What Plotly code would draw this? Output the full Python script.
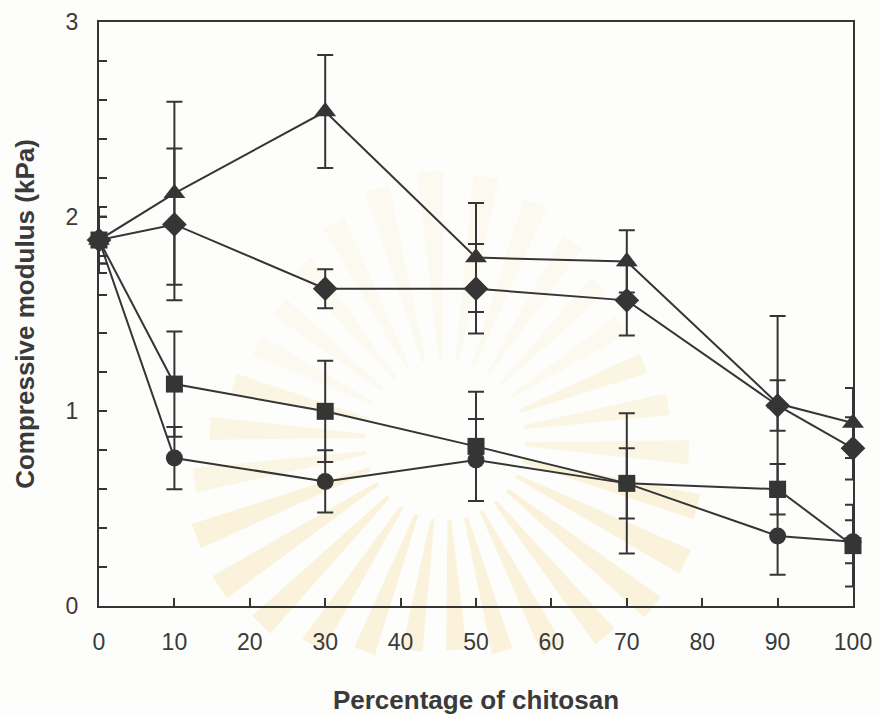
import math
import plotly.graph_objects as go

# Chitosan content (%) on the x axis
chitosan_pct = [0, 10, 30, 50, 70, 90, 100]

# Compressive modulus (kPa) and standard deviations for each formulation
triangle_vals = [1.88, 2.12, 2.54, 1.79, 1.77, 1.04, 0.94]
triangle_err = [0.17, 0.47, 0.29, 0.28, 0.16, 0.45, 0.18]

diamond_vals = [1.88, 1.96, 1.63, 1.63, 1.57, 1.03, 0.81]
diamond_err = [0.12, 0.39, 0.10, 0.23, 0.18, 0.13, 0.16]

square_vals = [1.88, 1.14, 1.00, 0.82, 0.63, 0.60, 0.31]
square_err = [0.17, 0.27, 0.26, 0.28, 0.36, 0.13, 0.21]

circle_vals = [1.88, 0.76, 0.64, 0.75, 0.63, 0.36, 0.33]
circle_err = [0.12, 0.16, 0.16, 0.21, 0.18, 0.20, 0.11]

x_ticks = [0, 10, 20, 30, 40, 50, 60, 70, 80, 90, 100]
y_major = [0, 1, 2, 3]

INK = "#353535"
TEXT = "#3a3a3a"
W, H = 879, 715
L, R, T, B = 99, 26, 22, 109

series = [
    (circle_vals, circle_err, "circle", 17),
    (square_vals, square_err, "square", 17),
    (diamond_vals, diamond_err, "diamond", 19),
    (triangle_vals, triangle_err, "triangle-up", 19),
]

fig = go.Figure()
for vals, errs, symbol, size in series:
    fig.add_trace(go.Scatter(
        x=chitosan_pct, y=vals,
        mode="lines+markers",
        line=dict(color=INK, width=2),
        marker=dict(symbol=symbol, size=size, color=INK, line=dict(width=0)),
        error_y=dict(type="data", array=errs, visible=True,
                     color=INK, thickness=2, width=8),
        cliponaxis=False,
        showlegend=False,
    ))

# faint sunburst emblem printed behind the plot
pw, ph = W - L - R, H - T - B
cx, cy = 445, 440


def to_paper(px, py):
    return (px - L) / pw, (H - B - py) / ph


rays = []
n_rays = 30
for i in range(n_rays):
    a = 2 * math.pi * i / n_rays + 0.05
    half = math.radians(2.8)
    r1 = 80
    r2 = 240 + 30 * math.sin(3 * a)
    pts = [
        (cx + r1 * math.cos(a - half * 0.5), cy + r1 * math.sin(a - half * 0.5)),
        (cx + r2 * math.cos(a - half), cy + r2 * math.sin(a - half)),
        (cx + r2 * math.cos(a + half), cy + r2 * math.sin(a + half)),
        (cx + r1 * math.cos(a + half * 0.5), cy + r1 * math.sin(a + half * 0.5)),
    ]
    pp = [to_paper(*p) for p in pts]
    path = "M " + " L ".join(f"{x:.4f},{y:.4f}" for x, y in pp) + " Z"
    s = math.sin(a)  # positive = below centre on screen
    alpha = 0.24 if s > 0.2 else (0.16 if s > -0.4 else 0.08)
    rays.append(dict(
        type="path", path=path, xref="paper", yref="paper", layer="below",
        fillcolor=f"rgba(244,210,115,{alpha})",
        line=dict(width=0),
    ))

y_tickvals = [round(i * 0.2, 1) for i in range(16)]
y_ticktext = [str(int(round(v))) if abs(v - round(v)) < 1e-9 else "" for v in y_tickvals]

tick_font = dict(family="Liberation Sans, Arial, sans-serif", size=23, color=TEXT)
title_font = dict(family="Liberation Sans, Arial, sans-serif", size=26, color=TEXT)

fig.update_layout(
    width=W, height=H,
    margin=dict(l=L, r=R, t=T, b=B),
    paper_bgcolor="#fdfdfb",
    plot_bgcolor="rgba(0,0,0,0)",
    font=dict(family="Liberation Sans, Arial, sans-serif", color=TEXT),
    shapes=rays,
    xaxis=dict(
        range=[0, 100],
        automargin=False,
        tickvals=x_ticks,
        ticktext=[str(v) for v in x_ticks],
        ticks="inside", ticklen=8, tickwidth=2, tickcolor=INK,
        showline=True, linecolor=INK, linewidth=2, mirror=True,
        showgrid=False, zeroline=False,
        tickfont=tick_font,
        ticklabelstandoff=14,
        title=dict(text="<b>Percentage of chitosan</b>", font=title_font, standoff=37),
    ),
    yaxis=dict(
        range=[0, 3],
        automargin=False,
        tickvals=y_tickvals,
        ticktext=y_ticktext,
        ticks="inside", ticklen=8, tickwidth=2, tickcolor=INK,
        showline=True, linecolor=INK, linewidth=2, mirror=True,
        showgrid=False, zeroline=False,
        tickfont=tick_font,
        ticklabelstandoff=14,
        title=dict(text="<b>Compressive modulus (kPa)</b>", font=title_font, standoff=24),
    ),
)

fig.write_html("out.html")
